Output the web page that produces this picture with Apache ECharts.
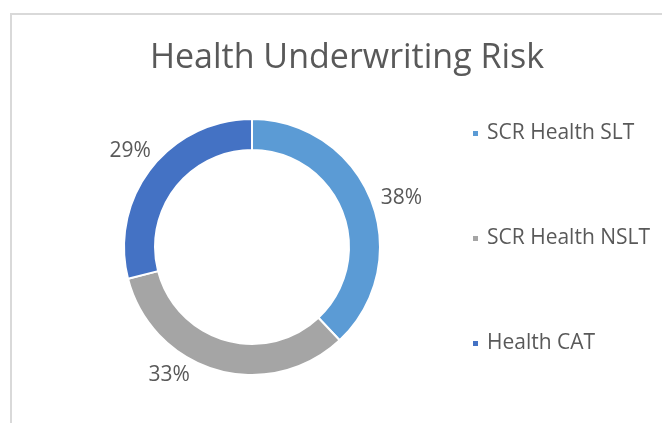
<!DOCTYPE html>
<html>
<head>
<meta charset="utf-8">
<script src="https://cdn.jsdelivr.net/npm/echarts@6/dist/echarts.min.js"></script>
<style>
html, body { margin: 0; padding: 0; background: #fff; }
#frame { position: absolute; left: 10px; top: 13px; width: 700px; height: 460px; border: 2px solid #d9d9d9; box-sizing: border-box; }
#chart { position: absolute; left: 0; top: 0; width: 662px; height: 423px; }
</style>
</head>
<body>
<div id="frame"></div>
<div id="chart"></div>
<script>
var categories = ['SCR Health SLT', 'SCR Health NSLT', 'Health CAT'];
var values = [38, 33, 29];
var colors = ['#5b9bd5', '#a5a5a5', '#4472c4'];

var pieData = [];
for (var i = 0; i < categories.length; i++) {
    pieData.push({ name: categories[i], value: values[i], itemStyle: { color: colors[i] } });
}

var myChart = echarts.init(document.getElementById('chart'));
myChart.setOption({
    title: {
        text: 'Health Underwriting Risk',
        left: 342,
        top: 36,
        textAlign: 'center',
        textStyle: { fontFamily: 'Open Sans', fontSize: 34, fontWeight: 'normal', color: '#595959' }
    },
    legend: {
        orient: 'vertical',
        left: 466,
        top: 118,
        itemGap: 84,
        itemWidth: 7,
        itemHeight: 7,
        icon: 'rect',
        data: categories,
        textStyle: { fontFamily: 'Open Sans', fontSize: 21, color: '#595959', padding: [0, 0, 0, 3] }
    },
    series: [{
        type: 'pie',
        center: [252, 247],
        radius: [97, 128],
        startAngle: 90,
        clockwise: true,
        avoidLabelOverlap: false,
        itemStyle: { borderColor: '#fff', borderWidth: 2 },
        label: {
            show: true,
            position: 'outside',
            formatter: '{d}%',
            fontFamily: 'Open Sans',
            fontSize: 21,
            color: '#595959'
        },
        labelLine: { show: false, length: 5, length2: 0 },
        labelLayout: function (params) {
            if (params.dataIndex === 1) {
                return { dx: -20 };
            }
            if (params.dataIndex === 2) {
                return { dx: 9, dy: -14 };
            }
        },
        emphasis: { disabled: true },
        data: pieData
    }]
});
</script>
</body>
</html>
